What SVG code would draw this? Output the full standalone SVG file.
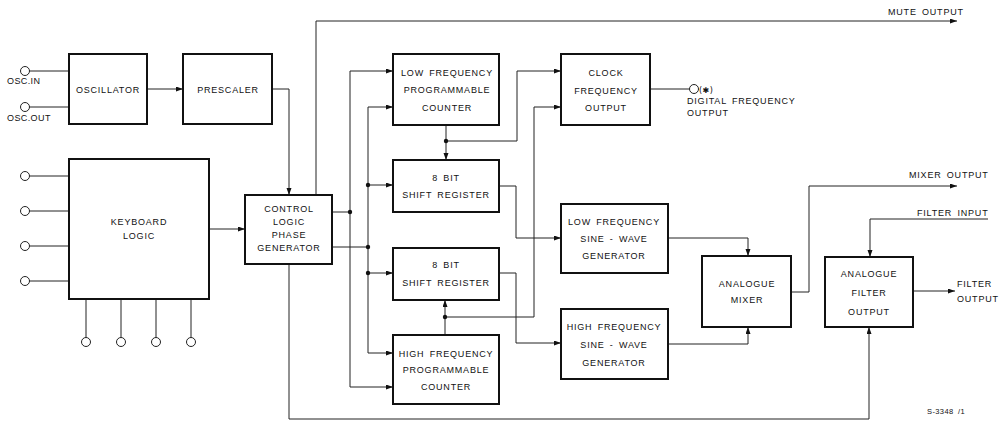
<svg xmlns="http://www.w3.org/2000/svg" width="1004" height="422" viewBox="0 0 1004 422">
<style>
.box{fill:#fff;stroke:#111;stroke-width:2}
.ln{fill:none;stroke:#222;stroke-width:1}
.ar{fill:none;stroke:#222;stroke-width:1;marker-end:url(#ah)}
.pin{fill:#fff;stroke:#222;stroke-width:1}
.dot{fill:#111}
text{font-family:"Liberation Sans",Arial,sans-serif;font-size:9px;letter-spacing:0.8px;fill:#111;word-spacing:2px}
.c{text-anchor:middle}
.sm{font-size:7.5px;letter-spacing:0.4px}
</style>
<defs>
<marker id="ah" markerUnits="userSpaceOnUse" markerWidth="8" markerHeight="6" refX="7" refY="2.5" orient="auto">
<path d="M0,0 L7,2.5 L0,5 z" fill="#111"/>
</marker>
</defs>
<rect width="1004" height="422" fill="#fff"/>
<g id="connectors">
<circle class="pin" cx="25" cy="71" r="4.5"/><path class="ln" d="M29.5,71 H69"/>
<circle class="pin" cx="25" cy="107" r="4.5"/><path class="ln" d="M29.5,107 H69"/>
<path class="ar" d="M147,89 H183"/>
<path class="ar" d="M272,89 H289 V195"/>
<circle class="pin" cx="25" cy="176" r="4.5"/><path class="ln" d="M29.5,176 H69"/>
<circle class="pin" cx="25" cy="211" r="4.5"/><path class="ln" d="M29.5,211 H69"/>
<circle class="pin" cx="25" cy="246" r="4.5"/><path class="ln" d="M29.5,246 H69"/>
<circle class="pin" cx="25" cy="281" r="4.5"/><path class="ln" d="M29.5,281 H69"/>
<path class="ln" d="M86,299 V337.5 M121,299 V337.5 M156,299 V337.5 M191,299 V337.5"/>
<circle class="pin" cx="86" cy="342" r="4.5"/>
<circle class="pin" cx="121" cy="342" r="4.5"/>
<circle class="pin" cx="156" cy="342" r="4.5"/>
<circle class="pin" cx="191" cy="342" r="4.5"/>
<path class="ar" d="M209,229 H245"/>
<path class="ar" d="M316,195 V21 H957"/>
<path class="ln" d="M332,212 H350"/>
<path class="ar" d="M350,212 V71 H393"/>
<path class="ar" d="M350,212 V387 H393"/>
<circle class="dot" cx="350" cy="212" r="2.2"/>
<path class="ln" d="M332,247 H368"/>
<path class="ar" d="M368,247 V107 H393"/>
<path class="ar" d="M368,247 V353 H393"/>
<path class="ar" d="M368,185 H393"/>
<path class="ar" d="M368,273 H393"/>
<circle class="dot" cx="368" cy="185" r="2.2"/>
<circle class="dot" cx="368" cy="247" r="2.2"/>
<circle class="dot" cx="368" cy="273" r="2.2"/>
<path class="ar" d="M446,125 V160"/>
<path class="ar" d="M446,141 H517 V71 H561"/>
<circle class="dot" cx="446" cy="141" r="2.2"/>
<path class="ar" d="M445,335 V300"/>
<path class="ar" d="M445,317 H534 V107 H561"/>
<circle class="dot" cx="445" cy="317" r="2.2"/>
<path class="ar" d="M499,186 H516 V238 H561"/>
<path class="ar" d="M499,273 H516 V343 H561"/>
<path class="ln" d="M650,89 H689.5"/>
<circle class="pin" cx="694" cy="89" r="4.5"/>
<path class="ar" d="M668,238 H748 V256"/>
<path class="ar" d="M668,344 H748 V327"/>
<path class="ar" d="M791,292 H809 V186 H957"/>
<path class="ar" d="M988,219 H870 V257"/>
<path class="ar" d="M913,291 H955"/>
<path class="ar" d="M289,264 V419 H869 V327"/>
</g>
<g id="oscillator"><rect class="box" x="69" y="54" width="78" height="70"/><text class="c" x="108" y="93">OSCILLATOR</text></g>
<g id="prescaler"><rect class="box" x="183" y="54" width="89" height="70"/><text class="c" x="228" y="93">PRESCALER</text></g>
<g id="keyboard"><rect class="box" x="69" y="159" width="140" height="140"/><text class="c" x="139" y="225">KEYBOARD</text><text class="c" x="139" y="239">LOGIC</text></g>
<g id="control"><rect class="box" x="245" y="195" width="87" height="69"/><text class="c" x="289" y="212">CONTROL</text><text class="c" x="289" y="225">LOGIC</text><text class="c" x="289" y="238">PHASE</text><text class="c" x="289" y="251">GENERATOR</text></g>
<g id="lf-counter"><rect class="box" x="393" y="54" width="106" height="71"/><text class="c" x="447" y="75.5">LOW FREQUENCY</text><text class="c" x="447" y="92.5">PROGRAMMABLE</text><text class="c" x="447" y="110.5">COUNTER</text></g>
<g id="sr1"><rect class="box" x="393" y="160" width="106" height="52"/><text class="c" x="446" y="180.5">8 BIT</text><text class="c" x="446" y="197.5">SHIFT REGISTER</text></g>
<g id="sr2"><rect class="box" x="393" y="248" width="106" height="52"/><text class="c" x="446" y="267.5">8 BIT</text><text class="c" x="446" y="285.5">SHIFT REGISTER</text></g>
<g id="hf-counter"><rect class="box" x="393" y="335" width="106" height="69"/><text class="c" x="446" y="356.5">HIGH FREQUENCY</text><text class="c" x="446" y="372.5">PROGRAMMABLE</text><text class="c" x="446" y="389.5">COUNTER</text></g>
<g id="clock"><rect class="box" x="561" y="54" width="89" height="71"/><text class="c" x="606" y="75.5">CLOCK</text><text class="c" x="606" y="93.5">FREQUENCY</text><text class="c" x="606" y="110.5">OUTPUT</text></g>
<g id="lf-sine"><rect class="box" x="561" y="204" width="107" height="69"/><text class="c" x="614" y="224.5">LOW FREQUENCY</text><text class="c" x="614" y="241.5">SINE - WAVE</text><text class="c" x="614" y="258.5">GENERATOR</text></g>
<g id="hf-sine"><rect class="box" x="561" y="309" width="107" height="70"/><text class="c" x="614" y="329.5">HIGH FREQUENCY</text><text class="c" x="614" y="347.5">SINE - WAVE</text><text class="c" x="614" y="365.5">GENERATOR</text></g>
<g id="mixer"><rect class="box" x="702" y="256" width="89" height="71"/><text class="c" x="747" y="286.5">ANALOGUE</text><text class="c" x="747" y="302.5">MIXER</text></g>
<g id="filter"><rect class="box" x="825" y="257" width="88" height="70"/><text class="c" x="869" y="276.5">ANALOGUE</text><text class="c" x="869" y="295.5">FILTER</text><text class="c" x="869" y="314.5">OUTPUT</text></g>
<g id="labels">
<text x="7" y="84" style="letter-spacing:0.4px">OSC.IN</text>
<text x="7" y="121" style="letter-spacing:0.4px">OSC.OUT</text>
<text x="888" y="15">MUTE OUTPUT</text>
<text x="699" y="92.5" style="font-family:'DejaVu Sans',sans-serif;font-size:8px;letter-spacing:0.5px">(✱)</text>
<text x="687" y="104">DIGITAL FREQUENCY</text>
<text x="687" y="116">OUTPUT</text>
<text x="909" y="178">MIXER OUTPUT</text>
<text x="917" y="216">FILTER INPUT</text>
<text x="957" y="287">FILTER</text>
<text x="957" y="302">OUTPUT</text>
<text class="sm" x="927" y="414">S-3348 /1</text>
</g>
</svg>
